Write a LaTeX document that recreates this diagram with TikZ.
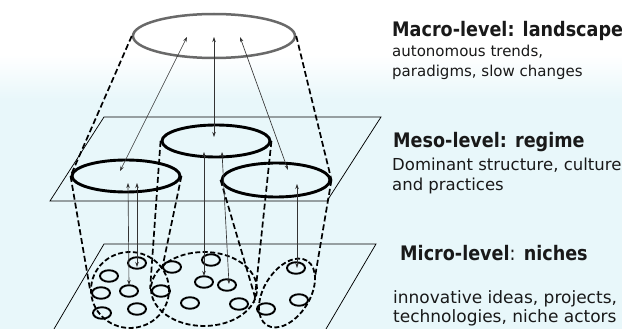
\documentclass[tikz,border=0pt]{standalone}
\usepackage{fontspec}
\setmainfont{DejaVu Sans}
\newfontfamily\headfont[FakeStretch=0.88]{DejaVu Sans}
\usetikzlibrary{shapes.geometric,arrows.meta}
\definecolor{bgc}{RGB}{232,247,250}
\definecolor{txt}{RGB}{25,25,25}
\definecolor{macroc}{RGB}{105,105,105}
\begin{document}
\begin{tikzpicture}[x=1pt,y=-1pt,
  bigell/.style={ellipse, draw, inner sep=0, line width=2.9pt},
  small/.style={ellipse, draw, inner sep=0, line width=1.9pt, minimum width=18pt, minimum height=11.5pt},
  niche/.style={ellipse, draw, inner sep=0, line width=1.8pt, dash pattern=on 5pt off 2.5pt},
  cone/.style={line width=1.7pt, dash pattern=on 6pt off 3pt},
  plane/.style={line width=0.75pt},
  link/.style={draw=black!80, line width=0.65pt, {Stealth[length=5pt,width=3.5pt]}-{Stealth[length=5pt,width=3.5pt]}},
  head/.style={anchor=base west, inner sep=0, text=txt, font=\headfont\fontsize{20}{24}\selectfont\bfseries},
  bodyA/.style={anchor=base west, inner sep=0, text=txt, font=\fontsize{15}{18}\selectfont},
  bodyB/.style={anchor=base west, inner sep=0, text=txt, font=\fontsize{16.5}{20}\selectfont},
  bodyC/.style={anchor=base west, inner sep=0, text=txt, font=\fontsize{17}{20}\selectfont}]
\useasboundingbox (0,0) rectangle (622,329);
% background
\fill[white] (0,0) rectangle (622,329);
\shade[top color=white, bottom color=bgc] (0,55) rectangle (622,100);
\fill[bgc] (0,100) rectangle (622,329);

% planes
\draw[plane] (50,201) -- (104,117) -- (381,117) -- (327,201) -- cycle;
\draw[plane] (54,329) -- (104,244) -- (376,244) -- (326,329);

% ellipses
\node[bigell, draw=macroc, line width=2.5pt, minimum width=162pt, minimum height=44pt] (macro) at (214,36) {};
\node[bigell, minimum width=108pt, minimum height=32pt] (mesoL) at (126,176) {};
\node[bigell, minimum width=108pt, minimum height=32pt] (mesoC) at (216,141) {};
\node[bigell, minimum width=108pt, minimum height=34pt] (mesoR) at (276,180) {};

\node[niche, minimum width=78pt, minimum height=76pt] (nicheL) at (130,290) {};
\node[niche, minimum width=106pt, minimum height=74pt] (nicheM) at (204,289) {};
\node[niche, minimum width=76pt, minimum height=46pt, rotate=58] (nicheR) at (287,293) {};

\coordinate (nRa) at (255,297);
\coordinate (nRb) at (315,277);

% cone lines
\draw[cone] (macro.west) -- (mesoL.west);
\draw[cone] (macro.east) -- (mesoR.east);
\draw[cone] (mesoL.west) -- (nicheL.west);
\draw[cone] (mesoL.east) -- (nicheL.35);
\draw[cone] (mesoC.west) -- (nicheM.west);
\draw[cone] (mesoC.east) -- (nicheM.-15);
\draw[cone] (mesoR.west) -- (nRa);
\draw[cone] (mesoR.east) -- (nRb);

% small ellipses (niche actors)
\node[small] (s1) at (137,263) {};
\node[small] (s2) at (109,276) {};
\node[small] (s3) at (101,293) {};
\node[small] (s4) at (129,291) {};
\node[small] (s5) at (102,313) {};
\node[small] (s6) at (137,309) {};
\node[small] (s7) at (161,291) {};
\node[small] (s8) at (172,267) {};
\node[small] (s9) at (211,260) {};
\node[small] (s10) at (204,282) {};
\node[small] (s11) at (227,285) {};
\node[small] (s12) at (190,303) {};
\node[small] (s13) at (239,304) {};
\node[small] (s14) at (296,268) {};
\node[small] (s15) at (266,309) {};
\node[small] (s16) at (299,300) {};

% arrow end points
\coordinate (m1) at (187,37);
\coordinate (m2) at (214,37);
\coordinate (m3) at (240,37);
\coordinate (l1) at (120,171);
\coordinate (c1) at (214,137);
\coordinate (r1) at (288,170);
\coordinate (l2) at (128,183);
\coordinate (l3) at (137,183);
\coordinate (c2) at (204,152);
\coordinate (c3) at (222,152);
\coordinate (r2) at (297,184);
\coordinate (a4) at (129,285);
\coordinate (a5) at (137,267);
\coordinate (a6) at (204,276);
\coordinate (a7) at (229,284);
\coordinate (a8) at (297,268);

\draw[link] (l1) -- (m1);
\draw[link] (c1) -- (m2);
\draw[link] (r1) -- (m3);
\draw[link] (a4) -- (l2);
\draw[link] (a5) -- (l3);
\draw[link] (a6) -- (c2);
\draw[link] (a7) -- (c3);
\draw[link] (a8) -- (r2);

% texts
\node[head] (t1) at (392,37) {Macro-level: landscape};
\node[bodyA] (t2) at (392,57) {autonomous trends,};
\node[bodyA] (t3) at (392,77) {paradigms, slow changes};
\node[head] (t4) at (393,147) {Meso-level: regime};
\node[bodyB] (t5) at (392,170) {Dominant structure, culture};
\node[bodyB] (t6) at (392,190) {and practices};
\node[head] (t7) at (400,260) {Micro-level{\mdseries:} niches};
\node[bodyC] (t8) at (393,303) {innovative ideas, projects,};
\node[bodyC] (t9) at (393,322) {technologies, niche actors};
\end{tikzpicture}
\end{document}
